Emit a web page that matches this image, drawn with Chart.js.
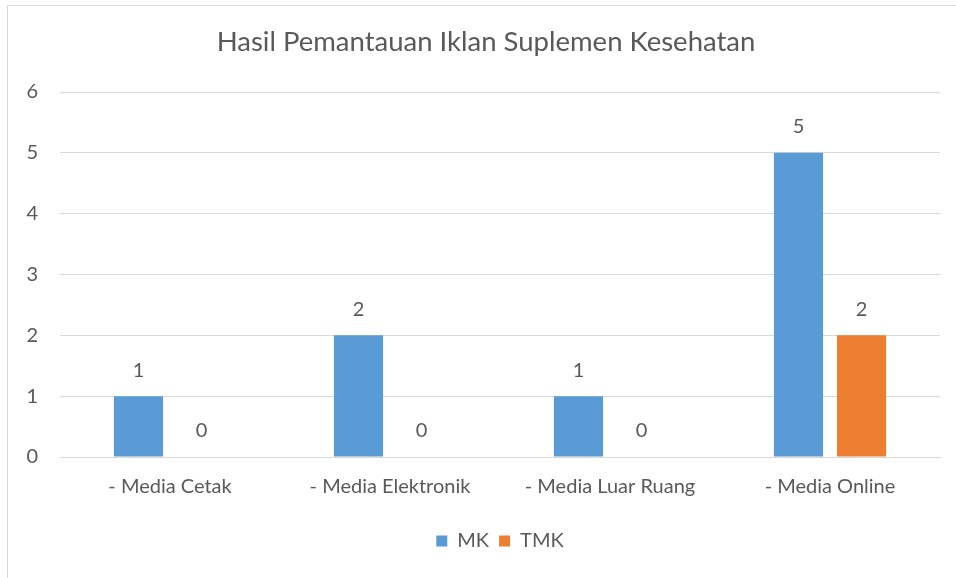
<!DOCTYPE html>
<html>
<head>
<meta charset="utf-8">
<script src="https://cdn.jsdelivr.net/npm/chart.js@4/dist/chart.umd.min.js"></script>
<style>
  html, body { margin: 0; padding: 0; background: #fff; }
  #wrap { position: relative; width: 956px; height: 578px; overflow: hidden; }
  #frame { position: absolute; left: 7px; top: 5px; width: 960px; height: 590px; border-left: 1px solid #d9d9d9; border-top: 1px solid #d9d9d9; pointer-events: none; }
  canvas { position: absolute; left: 0; top: 0; }
</style>
</head>
<body>
<div id="wrap">
  <canvas id="c" width="956" height="578"></canvas>
  <div id="frame"></div>
</div>
<script>
const categories = ["- Media Cetak", "- Media Elektronik", "- Media Luar Ruang", "- Media Online"];
const mkValues = [1, 2, 1, 5];
const tmkValues = [0, 0, 0, 2];
const seriesNames = ["MK", "TMK"];
const yTicks = [0, 1, 2, 3, 4, 5, 6];
const chartTitle = "Hasil Pemantauan Iklan Suplemen Kesehatan";

const FONT = "Lato, 'Open Sans', sans-serif";
const TEXT = "#595959";

const valueLabels = {
  id: 'valueLabels',
  afterDatasetsDraw(chart) {
    const ctx = chart.ctx;
    ctx.save();
    ctx.font = "20px " + FONT;
    ctx.fillStyle = TEXT;
    ctx.textAlign = "center";
    ctx.textBaseline = "middle";
    chart.data.datasets.forEach((ds, i) => {
      chart.getDatasetMeta(i).data.forEach((bar, j) => {
        ctx.fillText(String(ds.data[j]), bar.x, bar.y - 26);
      });
    });
    ctx.restore();
  }
};

const titlePlugin = {
  id: 'titleText',
  afterDraw(chart) {
    const ctx = chart.ctx;
    ctx.save();
    ctx.font = "27.5px " + FONT;
    ctx.fillStyle = TEXT;
    ctx.textAlign = "center";
    ctx.textBaseline = "middle";
    ctx.fillText(chartTitle, 486, 42);
    ctx.restore();
  }
};

new Chart(document.getElementById('c'), {
  type: 'bar',
  data: {
    labels: categories,
    datasets: [
      { label: seriesNames[0], data: mkValues, backgroundColor: "#5B9BD5" },
      { label: seriesNames[1], data: tmkValues, backgroundColor: "#ED7D31" }
    ]
  },
  options: {
    responsive: false,
    animation: false,
    layout: { padding: { left: 0, right: 16, top: 92, bottom: 17 } },
    datasets: { bar: { categoryPercentage: 0.573, barPercentage: 0.78 } },
    plugins: {
      title: { display: false },
      legend: {
        position: 'bottom',
        fullSize: false,
        labels: {
          color: TEXT,
          font: { family: FONT, size: 20 },
          usePointStyle: true,
          pointStyle: 'rect',
          boxWidth: 11,
          boxHeight: 11,
          padding: 10
        }
      },
      tooltip: { enabled: false }
    },
    scales: {
      x: {
        afterFit(scale) { scale.height = 64; },
        grid: { display: false, drawTicks: false },
        border: { display: true, color: "#d9d9d9", width: 1 },
        ticks: { color: TEXT, font: { family: FONT, size: 20 }, padding: 18 }
      },
      y: {
        min: 0, max: 6,
        afterFit(scale) { scale.width = 60; },
        afterBuildTicks(scale) { scale.ticks = yTicks.map(v => ({ value: v })); },
        grid: { color: "#d9d9d9", drawTicks: false },
        border: { display: false },
        ticks: { color: TEXT, font: { family: FONT, size: 20 }, padding: 22 }
      }
    }
  },
  plugins: [valueLabels, titlePlugin]
});
</script>
</body>
</html>
